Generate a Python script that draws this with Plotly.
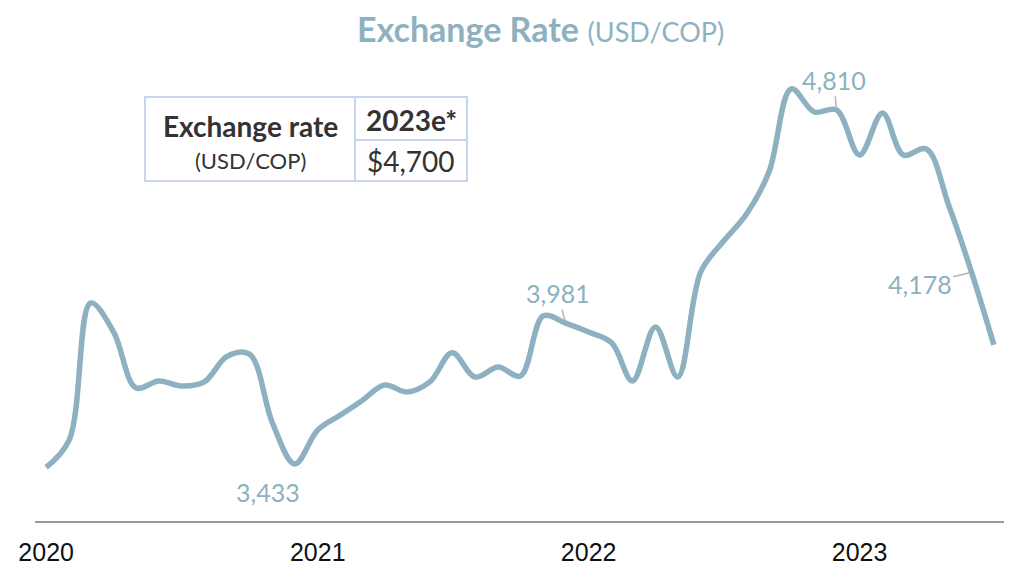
import pandas as pd
import plotly.graph_objects as go

# monthly average USD/COP, Jan 2020 - Jul 2023
months = pd.date_range("2020-01-01", periods=43, freq="MS")
rate = [3420, 3526, 4059, 3946, 3729, 3756, 3736, 3752, 3852, 3860,
        3592, 3433, 3565, 3624, 3678, 3740, 3713, 3752, 3865, 3771,
        3810, 3775, 4009, 3981, 3946, 3904, 3756, 3966, 3771, 4180,
        4297, 4402, 4569, 4892, 4802, 4810, 4635, 4798, 4635, 4658,
        4440, 4178, 3896]

year_ticks = ["2020-01-01", "2021-01-01", "2022-01-01", "2023-01-01"]
year_labels = ["2020", "2021", "2022", "2023"]

# labelled points: (month index, text, ax, ay)
callouts = [(35, "4,810", -3, -30), (23, "3,981", -8, -30), (41, "4,178", -52, 12)]
low_idx = 11

table_head = "Exchange rate"
table_sub = "(USD/COP)"
table_col = "2023e*"
table_val = "$4,700"

LINE = "#8db1c1"
FONT = "Lato, 'Open Sans', sans-serif"

# the page body adds an 8px margin, so the figure is drawn 8px smaller
PAGE_OFF = 8
W, H = 1012 - PAGE_OFF, 566 - PAGE_OFF
# plot area in window pixels
L, R, T, B = 35, 1005, 40, 521

fig = go.Figure()
fig.add_trace(go.Scatter(x=months, y=rate, mode="lines",
                         line=dict(color=LINE, width=5.5, shape="spline", smoothing=1.0),
                         hoverinfo="x+y"))

annotations = []
for i, txt, ax, ay in callouts:
    annotations.append(dict(x=months[i], y=rate[i], text=txt, showarrow=True,
                            arrowhead=0, arrowwidth=1.5, arrowcolor="#b5b5b5",
                            ax=ax, ay=ay, standoff=2,
                            font=dict(family=FONT, size=25, color=LINE)))
annotations.append(dict(x=months[low_idx], y=rate[low_idx], text=f"{rate[low_idx]:,}",
                        showarrow=False, xshift=-27, yshift=-28,
                        font=dict(family=FONT, size=25, color=LINE)))


def px(x):
    return (x - L) / (R - L)


def py(y):
    return (B - y) / (B - T)


# title
annotations.append(dict(xref="paper", yref="paper", x=px(540), y=py(28),
                        xanchor="center", yanchor="middle", showarrow=False,
                        text="<b>Exchange Rate</b> <span style='font-size:27px'>(USD/COP)</span>",
                        font=dict(family=FONT, size=34, color=LINE)))

# small table, built from shapes
border = "#c9d3f2"
shapes = [
    dict(type="rect", xref="paper", yref="paper", x0=px(145), x1=px(467), y0=py(181), y1=py(97),
         line=dict(color=border, width=2), fillcolor="white"),
    dict(type="line", xref="paper", yref="paper", x0=px(355), x1=px(355), y0=py(181), y1=py(97),
         line=dict(color=border, width=2)),
    dict(type="line", xref="paper", yref="paper", x0=px(355), x1=px(467), y0=py(140), y1=py(140),
         line=dict(color=border, width=2)),
]


def cell(x, y, text, size):
    return dict(xref="paper", yref="paper", x=px(x), y=py(y), text=text,
                xanchor="center", yanchor="middle", showarrow=False,
                font=dict(family=FONT, size=size, color="#333333"))


annotations += [
    cell(250, 126, f"<b>{table_head}</b>", 28),
    cell(250, 160, table_sub, 22),
    cell(411, 120, f"<b>{table_col}</b>", 28),
    cell(411, 161, table_val, 28),
]

fig.update_layout(
    width=W, height=H,
    margin=dict(l=L - PAGE_OFF, r=1012 - R, t=T - PAGE_OFF, b=566 - B, autoexpand=False),
    paper_bgcolor="white", plot_bgcolor="white",
    showlegend=False,
    annotations=annotations,
    shapes=shapes,
    xaxis=dict(range=["2019-12-17", "2023-07-16"], tickvals=year_ticks, ticktext=year_labels,
               showgrid=False, zeroline=False, showline=True, linecolor="#999999", linewidth=2,
               ticks="", ticklabelstandoff=8, automargin=False,
               tickfont=dict(family="'Liberation Sans Narrow', 'Arial Narrow', sans-serif",
                             size=25, color="#111111")),
    yaxis=dict(range=[3211, 5082], visible=False, showgrid=False, zeroline=False,
               automargin=False),
)

fig.write_html("out.html")
